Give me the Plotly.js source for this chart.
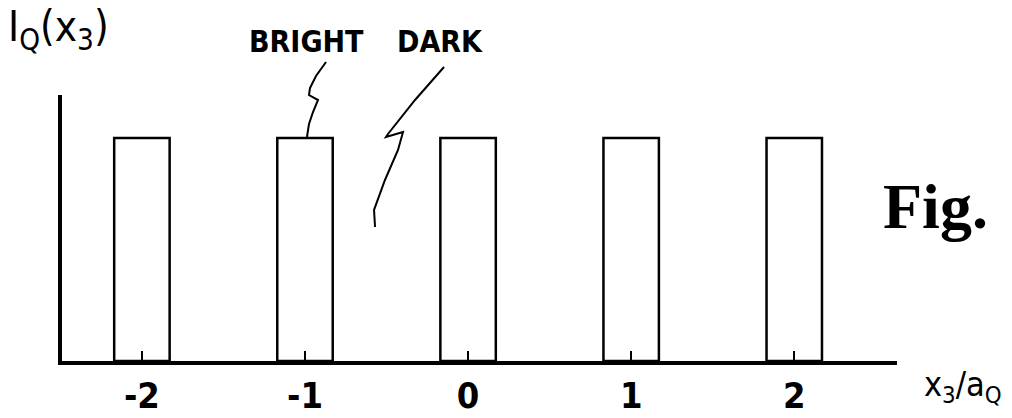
<!DOCTYPE html>
<html>
<head>
<meta charset="utf-8">
<script src="https://cdn.plot.ly/plotly-3.0.1.min.js"></script>
<style>html,body{margin:0;padding:0;background:#fff;}#chart{width:1012px;height:418px;}</style>
</head>
<body>
<div id="chart"></div>
<script>
// Data
const positions = [-2, -1, 0, 1, 2];
const intensity = [1, 1, 1, 1, 1];
const tickLabels = ['-2', '-1', '0', '1', '2'];
const labelBright = 'BRIGHT';
const labelDark = 'DARK';
const yLabel = 'I<sub>Q</sub>(x<sub>3</sub>)';
const xLabel = 'x<sub>3</sub>/a<sub>Q</sub>';
const figLabel = 'Fig.';

const narrow = '"DejaVu Sans Condensed", "Liberation Sans Narrow", sans-serif';

const W = 1012, H = 418;
const M = {l: 62, r: 115, t: 95, b: 57};
const PW = W - M.l - M.r, PH = H - M.t - M.b;
// convert figure pixels to paper (plot-area) fractions
const px = (x) => (x - M.l) / PW;
const py = (y) => (H - M.b - y) / PH;

const trace = {
  type: 'bar',
  x: positions,
  y: intensity,
  width: 0.34,
  marker: {color: '#ffffff', line: {color: '#000000', width: 2.5}},
  hoverinfo: 'skip'
};

function pathFrom(pts) {
  return pts.map((p, i) => (i ? 'L' : 'M') + px(p[0]).toFixed(4) + ',' + py(p[1]).toFixed(4)).join(' ');
}

const layout = {
  width: W, height: H,
  paper_bgcolor: '#ffffff', plot_bgcolor: '#ffffff',
  margin: M,
  showlegend: false,
  xaxis: {
    range: [-2.49, 2.63],
    showgrid: false, zeroline: false,
    showline: true, linecolor: '#000', linewidth: 4,
    tickmode: 'array', tickvals: positions, ticktext: tickLabels,
    ticks: 'inside', ticklen: 10, tickwidth: 2, tickcolor: '#000',
    tickfont: {family: narrow, size: 36, color: '#000', weight: 'bold'},
    ticklabelstandoff: 0,
    fixedrange: true
  },
  yaxis: {
    range: [0, 1.193],
    showgrid: false, zeroline: false,
    showline: true, linecolor: '#000', linewidth: 4,
    showticklabels: false, ticks: '',
    fixedrange: true
  },
  shapes: [
    {type: 'path', xref: 'paper', yref: 'paper', line: {color: '#000', width: 2},
     path: pathFrom([[326,62],[316,76],[310,88],[309,95],[318,100],[313,112],[309,124],[307,137]])},
    {type: 'path', xref: 'paper', yref: 'paper', line: {color: '#000', width: 2},
     path: pathFrom([[444,67],[415,100],[388,134],[386,137],[403,132],[398,150],[385,180],[374,210],[375,227]])}
  ],
  annotations: [
    {text: yLabel, xref: 'paper', yref: 'paper', x: px(6), y: py(0), xanchor: 'left', yanchor: 'top',
     showarrow: false, font: {family: narrow, size: 42, color: '#000'}},
    {text: labelBright, xref: 'paper', yref: 'paper', x: px(306), y: py(42), xanchor: 'center', yanchor: 'middle',
     showarrow: false, font: {family: narrow, size: 30, color: '#000', weight: 'bold'}},
    {text: labelDark, xref: 'paper', yref: 'paper', x: px(440), y: py(42), xanchor: 'center', yanchor: 'middle',
     showarrow: false, font: {family: narrow, size: 30, color: '#000', weight: 'bold'}},
    {text: figLabel, xref: 'paper', yref: 'paper', x: px(935), y: py(206), xanchor: 'center', yanchor: 'middle',
     showarrow: false, font: {family: '"Liberation Serif", "DejaVu Serif", serif', size: 64, color: '#000', weight: 'bold'}},
    {text: xLabel, xref: 'paper', yref: 'paper', x: px(922), y: py(386), xanchor: 'left', yanchor: 'middle',
     showarrow: false, font: {family: narrow, size: 34, color: '#000'}}
  ]
};

Plotly.newPlot('chart', [trace], layout, {displayModeBar: false, staticPlot: true});
</script>
</body>
</html>
